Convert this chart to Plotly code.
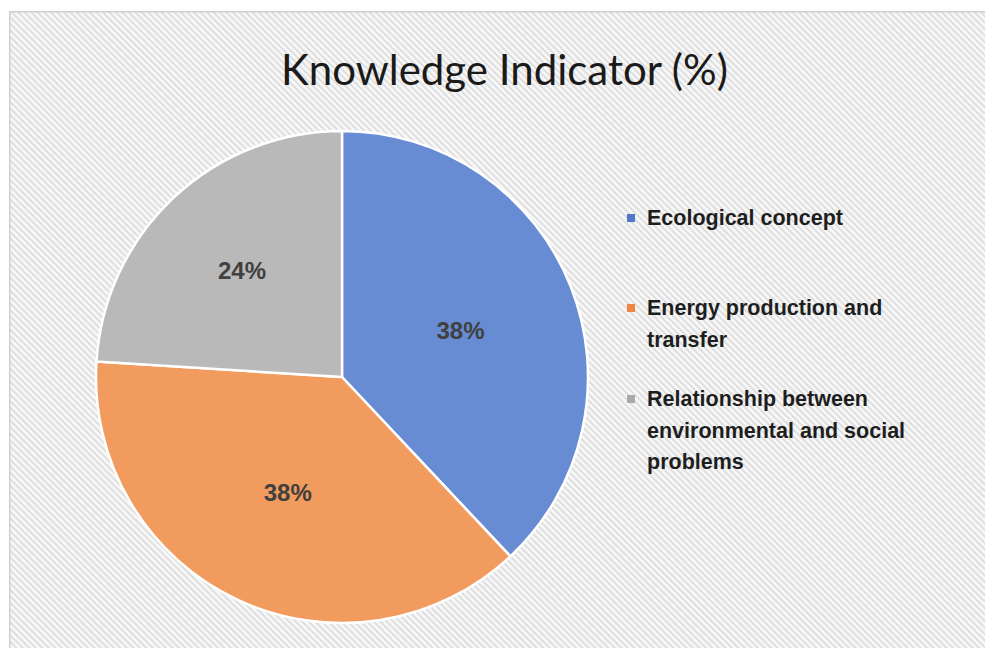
import base64
import plotly.graph_objects as go

# ---- data ----
categories = ["Ecological concept", "Energy production and transfer",
              "Relationship between environmental and social problems"]
values = [38, 38, 24]
legend_lines = [["Ecological concept"],
                ["Energy production and", "transfer"],
                ["Relationship between", "environmental and social", "problems"]]
title_text = "Knowledge Indicator (%)"

# ---- style ----
W, H = 985, 648
slice_colors = ["#678cd3", "#f29b5e", "#b9b9b9"]
legend_colors = ["#4f78c9", "#ee8540", "#a9a9a9"]

def px(x):
    return x / W

def py(y):
    return 1 - y / H

# hatched background as an inline SVG
bw, bh = W - 9, H - 11
svg = f'''<svg xmlns="http://www.w3.org/2000/svg" width="{bw}" height="{bh}" viewBox="0 0 {bw} {bh}">
<defs><pattern id="h" width="4.6" height="4.6" patternUnits="userSpaceOnUse" patternTransform="rotate(-45)">
<rect width="4.6" height="4.6" fill="#f8f8f8"/><rect width="2.0" height="4.6" fill="#dedede"/></pattern></defs>
<rect width="{bw}" height="{bh}" fill="url(#h)"/>
<path d="M0.75,{bh} V0.75 H{bw}" fill="none" stroke="#cfcfcf" stroke-width="1.5"/>
</svg>'''
src = "data:image/svg+xml;base64," + base64.b64encode(svg.encode()).decode()

fig = go.Figure()
fig.add_trace(go.Pie(
    labels=categories, values=values, sort=False, direction="clockwise", rotation=0,
    marker=dict(colors=slice_colors, line=dict(color="white", width=2.5)),
    textinfo="percent", textposition="inside", insidetextorientation="horizontal",
    textfont=dict(family="Liberation Sans, Arial, sans-serif",
                  size=24, color="#404040", weight="bold"),
    domain=dict(x=[px(96), px(588)], y=[py(623), py(131)]),
    showlegend=False, hoverinfo="label+percent",
))

annotations = []
shapes = []
first_line_y = [218, 308, 399]
line_h = 31.5
for i, lines in enumerate(legend_lines):
    y0 = first_line_y[i]
    shapes.append(dict(type="rect", xref="paper", yref="paper",
                       x0=px(627), x1=px(635), y0=py(y0 + 4), y1=py(y0 - 4),
                       fillcolor=legend_colors[i], line=dict(width=0)))
    for j, t in enumerate(lines):
        annotations.append(dict(text=t, xref="paper", yref="paper",
                                x=px(645), y=py(y0 + j * line_h), xanchor="left", yanchor="middle",
                                showarrow=False,
                                font=dict(family="Liberation Sans, Arial, sans-serif", size=21.5,
                                          color="#1e1e1e", weight="bold")))

annotations.append(dict(text=title_text, xref="paper", yref="paper", x=px(504), y=py(69),
                        xanchor="center", yanchor="middle", showarrow=False,
                        font=dict(family="Lato, Open Sans, sans-serif", size=42, color="#1a1a1a")))

fig.update_layout(
    width=W, height=H, margin=dict(l=0, r=0, t=0, b=0),
    paper_bgcolor="white", plot_bgcolor="white",
    images=[dict(source=src, xref="paper", yref="paper", x=px(9), y=py(11),
                 sizex=bw / W, sizey=bh / H, xanchor="left", yanchor="top",
                 sizing="stretch", layer="below")],
    annotations=annotations, shapes=shapes,
)

fig.write_html("out.html", config={"displayModeBar": False},
               post_script="document.body.style.margin='0px';document.body.style.overflow='hidden';")
